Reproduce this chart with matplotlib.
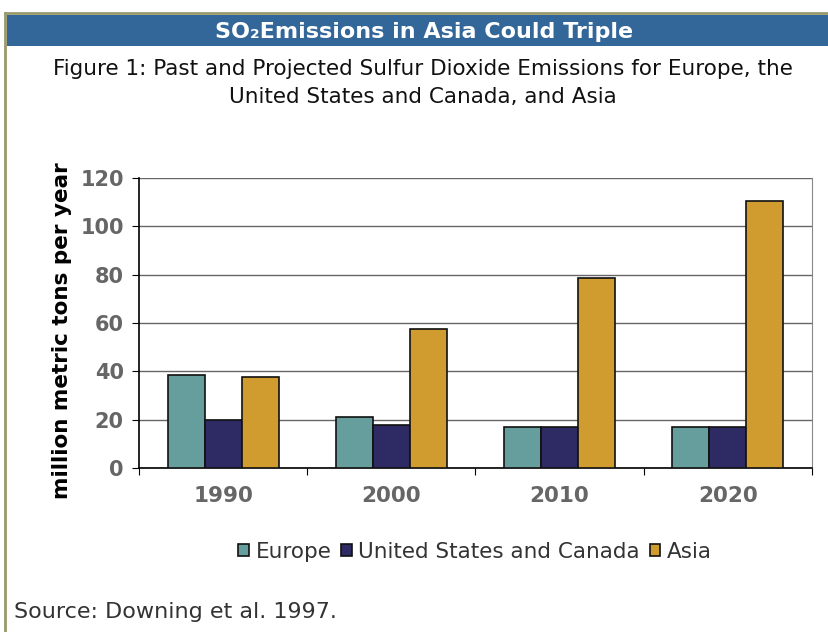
import matplotlib.pyplot as plt
from matplotlib.patches import Rectangle
from matplotlib.lines import Line2D
import numpy as np

years = ["1990", "2000", "2010", "2020"]
europe = [38.5, 21, 17, 17]
us_canada = [20, 18, 17, 17]
asia = [37.5, 57.5, 78.5, 110.5]
series_names = ["Europe", "United States and Canada", "Asia"]
colors = ["#669E9E", "#2E2A63", "#D09C30"]

fig = plt.figure(figsize=(8.29, 6.32), dpi=100)

# outer frame and title bar
fig.add_artist(Line2D([5 / 829, 1], [1 - 13 / 632] * 2, color="#99996A", lw=2))
fig.add_artist(Line2D([5 / 829] * 2, [0, 1 - 13 / 632], color="#99996A", lw=2))
fig.add_artist(Rectangle((7 / 829, 1 - 46 / 632), 1, 31 / 632, color="#336699", lw=0))
fig.text(424 / 829, 1 - 32 / 632, "SO\u2082Emissions in Asia Could Triple", color="white",
         fontsize=16, fontweight="bold", ha="center", va="center")
fig.text(423 / 829, 1 - 83 / 632,
         "Figure 1: Past and Projected Sulfur Dioxide Emissions for Europe, the\nUnited States and Canada, and Asia",
         fontsize=15.5, ha="center", va="center", color="#111111", linespacing=1.45)

ax = fig.add_axes([139 / 829, 1 - 468 / 632, (812 - 139) / 829, (468 - 178) / 632])
x = np.arange(len(years)) + 0.5
w = 0.22
for i, (vals, name, c) in enumerate(zip([europe, us_canada, asia], series_names, colors)):
    ax.bar(x + (i - 1) * w, vals, w, color=c, edgecolor="#111111", lw=1.2, label=name, zorder=3)

ax.set_xlim(0, 4)
ax.set_ylim(0, 120)
ax.set_yticks(range(0, 121, 20))
ax.set_xticks(range(0, 5))
ax.set_xticklabels([])
ax.set_xticks(x, minor=True)
ax.set_xticklabels(years, minor=True)
ax.tick_params(axis="x", which="minor", length=0, pad=13, labelsize=15.5, labelcolor="#666666")
ax.tick_params(axis="x", which="major", length=5, direction="out")
ax.tick_params(axis="y", length=5, labelsize=15, labelcolor="#666666", pad=6)
for lbl in ax.get_yticklabels() + ax.get_xticklabels(minor=True):
    lbl.set_fontweight("bold")
ax.grid(axis="y", color="#666666", lw=1, zorder=0)
ax.spines["top"].set_visible(False)
ax.spines["right"].set_color("#888888")
ax.spines["left"].set_linewidth(1.2)
ax.spines["bottom"].set_linewidth(1.2)
ax.set_ylabel("million metric tons per year", fontsize=15.5, fontweight="bold")
ax.yaxis.set_label_coords(-0.1, 0.475)

ax.legend(loc="center", bbox_to_anchor=(475 / 829, 1 - 552 / 632), bbox_transform=fig.transFigure,
          ncol=3, frameon=False, fontsize=15.5, handlelength=0.5, handleheight=0.5,
          handletextpad=0.3, columnspacing=0.45, labelcolor="#333333")

fig.text(14 / 829, 1 - 612 / 632, "Source: Downing et al. 1997.", fontsize=16,
         color="#333333", ha="left", va="center")

fig.savefig("out.png", dpi=100)
